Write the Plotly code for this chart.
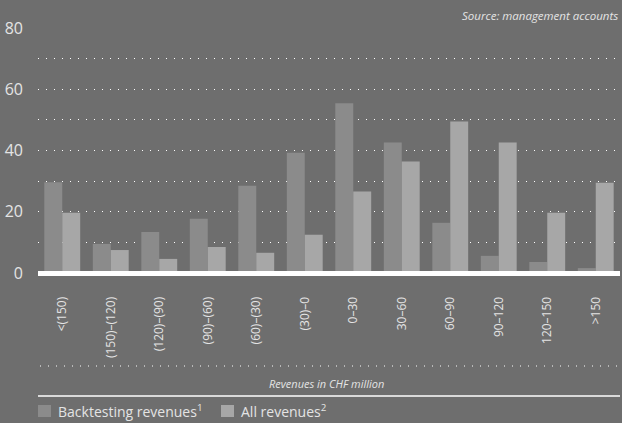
import plotly.graph_objects as go

categories = ["<(150)", "(150)–(120)", "(120)–(90)", "(90)–(60)", "(60)–(30)", "(30)–0",
              "0–30", "30–60", "60–90", "90–120", "120–150", ">150"]
backtesting = [29.6, 9.5, 13.4, 17.7, 28.5, 39.3, 55.4, 42.6, 16.4, 5.6, 3.6, 1.6]
all_revenues = [19.7, 7.5, 4.6, 8.5, 6.6, 12.5, 26.6, 36.4, 49.5, 42.6, 19.7, 29.5]

BG = "#6e6e6e"
DARK = "#8b8b8b"
LIGHT = "#a7a7a7"
TXT = "#e4e4e4"
FONT = "Open Sans"

W, H = 622, 423
L, R, T, B = 38, 620, 28, 273
PW, PH = R - L, B - T


def px(x):
    return (x - L) / PW


def py(y):
    return (B - y) / PH


fig = go.Figure()
fig.add_trace(go.Bar(x=categories, y=backtesting, name="Backtesting revenues<sup>1</sup>",
                     marker=dict(color=DARK, line=dict(width=0)), showlegend=False))
fig.add_trace(go.Bar(x=categories, y=all_revenues, name="All revenues<sup>2</sup>",
                     marker=dict(color=LIGHT, line=dict(width=0)), showlegend=False))

fig.update_layout(
    width=W, height=H,
    margin=dict(l=L, r=W - R, t=T, b=H - B, pad=0),
    paper_bgcolor=BG, plot_bgcolor=BG,
    barmode="group", bargap=0.26, bargroupgap=0,
    font=dict(family=FONT, color=TXT),
    xaxis=dict(
        type="category", range=[-0.5, 11.5], showgrid=False, zeroline=False,
        showline=False, tickangle=-90, ticks="outside", ticklen=18,
        tickcolor="rgba(0,0,0,0)", tickfont=dict(size=12, color=TXT, family=FONT),
    ),
    yaxis=dict(
        range=[0, 80], dtick=20, tick0=0,
        showgrid=True, gridcolor="white", gridwidth=1, griddash="1px,7px",
        minor=dict(dtick=10, showgrid=True, gridcolor="white", gridwidth=1, griddash="1px,7px"),
        zeroline=False, showline=False, ticks="", ticklabelstandoff=14,
        tickfont=dict(size=16, color=TXT, family=FONT),
    ),
)

# thick white baseline
fig.add_shape(type="rect", xref="paper", yref="paper", x0=0, x1=1, y0=py(276), y1=py(271),
              fillcolor="white", line=dict(width=0), layer="above")
# dotted line below labels
fig.add_shape(type="line", xref="paper", yref="paper", x0=px(40), x1=1, y0=py(366), y1=py(366),
              line=dict(color="white", width=1, dash="1px,7px"))
# solid separator line
fig.add_shape(type="line", xref="paper", yref="paper", x0=0, x1=1, y0=py(396), y1=py(396),
              line=dict(color="white", width=1.5))

fig.add_annotation(text="<i>Source: management accounts</i>", xref="paper", yref="paper",
                   x=px(620), y=py(15), xanchor="right", yanchor="middle", showarrow=False,
                   font=dict(size=11.5, color=TXT, family=FONT))
fig.add_annotation(text="<i>Revenues in CHF million</i>", xref="paper", yref="paper",
                   x=px(326), y=py(383), xanchor="center", yanchor="middle", showarrow=False,
                   font=dict(size=11, color=TXT, family=FONT))

# manual legend
legend_items = [("Backtesting revenues<sup>1</sup>", DARK, 38), ("All revenues<sup>2</sup>", LIGHT, 221)]
for label, col, x0 in legend_items:
    fig.add_shape(type="rect", xref="paper", yref="paper", x0=px(x0), x1=px(x0 + 13),
                  y0=py(417), y1=py(405), fillcolor=col, line=dict(width=0))
    fig.add_annotation(text=label, xref="paper", yref="paper", x=px(x0 + 18), y=py(411),
                       xanchor="left", yanchor="middle", showarrow=False,
                       font=dict(size=14, color=TXT, family=FONT))

fig.write_html("out.html", config={"displayModeBar": False},
               post_script="document.body.style.margin='0';document.body.style.overflow='hidden';")
